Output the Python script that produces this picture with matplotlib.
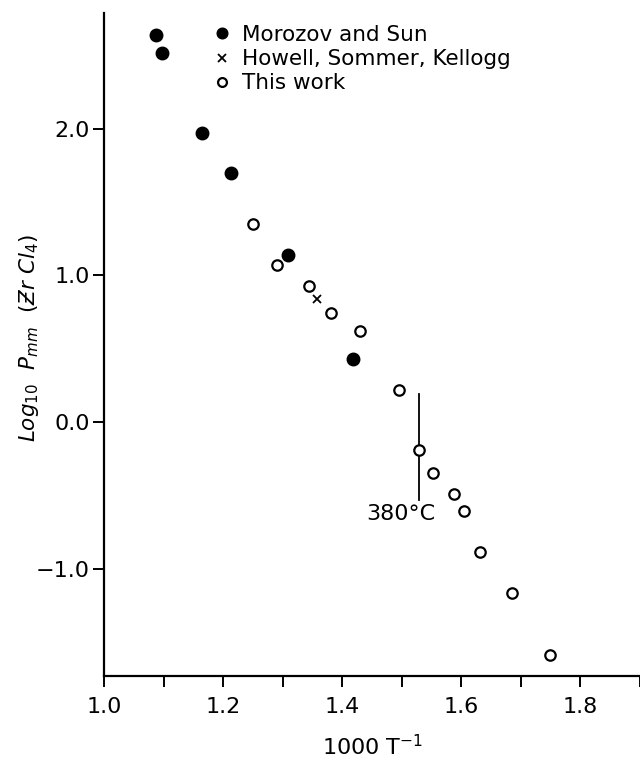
import matplotlib
matplotlib.use("Agg")
import matplotlib.pyplot as plt
from matplotlib.ticker import MultipleLocator, FuncFormatter

# data
morozov_x = [1.088, 1.097, 1.164, 1.213, 1.309, 1.418]
morozov_y = [2.64, 2.52, 1.97, 1.70, 1.14, 0.43]

howell_x = [1.358]
howell_y = [0.84]

this_work_x = [1.251, 1.291, 1.344, 1.381, 1.430, 1.495, 1.529, 1.553,
               1.588, 1.605, 1.632, 1.685, 1.749]
this_work_y = [1.35, 1.07, 0.93, 0.74, 0.62, 0.22, -0.19, -0.35,
               -0.49, -0.61, -0.89, -1.17, -1.59]

# 380 C transition marker
trans_x = 1.529
trans_y = [0.19, -0.53]

plt.rcParams['font.family'] = ['DejaVu Sans']


def fmt(v, pos):
    return ('%.1f' % v).replace('-', '\u2212')


fig = plt.figure(figsize=(6.4, 7.6), dpi=100)
ax = fig.add_axes([0.1625, 0.1105, 0.8375, 0.8725])

ax.plot([trans_x, trans_x], trans_y, color='black', lw=1.3, zorder=1)

ax.plot(morozov_x, morozov_y, 'o', color='black', ms=9, ls='none',
        label='Morozov and Sun', zorder=3)
ax.plot(howell_x, howell_y, 'x', color='black', ms=6, mew=1.3, ls='none',
        label='Howell, Sommer, Kellogg', zorder=3)
ax.plot(this_work_x, this_work_y, 'o', mfc='white', mec='black', mew=1.6,
        ms=7.5, ls='none', label='This work', zorder=3)

ax.text(1.499, -0.63, '380°C', fontsize=16, ha='center', va='center')

leg = ax.legend(loc='upper left', bbox_to_anchor=(0.207, 0.982), frameon=False,
                fontsize=15.5, handlelength=0.7, handletextpad=0.55,
                labelspacing=0.2, borderpad=0, borderaxespad=0, markerscale=0.85)

ax.set_xlim(1.0, 1.9)
ax.set_ylim(-1.733, 2.79)
ax.xaxis.set_major_locator(MultipleLocator(0.2))
ax.xaxis.set_minor_locator(MultipleLocator(0.1))
ax.yaxis.set_major_locator(MultipleLocator(1.0))
ax.xaxis.set_major_formatter(FuncFormatter(fmt))
ax.yaxis.set_major_formatter(FuncFormatter(fmt))

ax.spines['top'].set_visible(False)
ax.spines['right'].set_visible(False)
ax.spines['left'].set_linewidth(1.6)
ax.spines['bottom'].set_linewidth(1.6)
ax.tick_params(axis='both', which='both', direction='out', length=8,
               width=1.4, labelsize=16)
ax.tick_params(axis='x', which='both', pad=7)
ax.tick_params(axis='y', pad=2)

ax.set_xlabel(r'1000 T$^{-1}$', fontsize=16, labelpad=12)
ax.set_ylabel(r'$\mathit{Log_{10}}\ \ \mathit{P_{mm}}\ \ (\mathit{Ƶr\ Cl_4})$',
              fontsize=15.5)
ax.yaxis.set_label_coords(-0.118, 0.51)

fig.savefig('out.png', dpi=100)
